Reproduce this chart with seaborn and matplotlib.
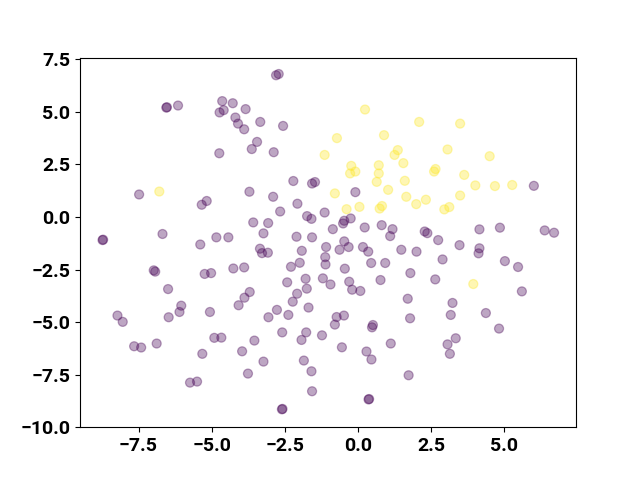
import matplotlib
matplotlib.use("Agg")
import matplotlib.pyplot as plt
import seaborn as sns
import pandas as pd

# class 0 (dark purple) points
x0 = [-6.55, -6.53, -6.15, -4.64, -4.28, -3.84, -4.73, -4.59, -4.19, -4.10, -3.89, -4.74, -3.63,
      -7.48, -5.17, -5.34, -3.71, -8.73, -8.71, -6.68, -4.84, -4.43, -5.39, -2.80, -2.71, -3.34,
      -2.56, -3.45, -2.88, -2.21, -1.57, -1.47, -2.90, -0.09, -2.07, -2.66, -1.14, -3.58, -3.07,
      -1.74, -1.59, -3.23, -2.10, -1.57, -0.86, -0.51, -0.47, -0.25, 0.23, 0.81, 1.18, 1.10, -0.47,
      6.01, 2.28, 2.37, 2.74, 4.15, 4.85, 6.38, 6.70, 3.47, 4.15, 4.12, 2.00, 1.48, 2.89, 5.02,
      5.47, 1.79, 2.64, 5.60, 1.70, 3.23, 3.17, 4.37, 1.78, 4.82, 3.34, 3.06, 3.14, 1.73, -3.35,
      -3.28, -3.08, -3.89, -1.92, -1.09, -0.32, 0.17, -0.63, 0.35, -1.12, -1.11, -1.99, -2.29,
      -0.45, 0.45, 0.93, -2.42, -1.79, -1.20, -0.94, -0.30, -0.20, 0.08, 0.77, -1.75, -2.08, -2.23,
      -3.70, -3.88, -4.08, -1.69, -2.77, -3.06, -2.38, -0.73, -0.48, -0.79, 0.51, 0.48, -2.59,
      -1.77, -1.93, -1.23, -3.54, -3.96, -3.23, -3.76, -0.55, 0.29, 0.46, 1.12, -1.85, -1.59,
      -1.57, -2.60, -2.58, 0.36, 0.38, -6.98, -6.93, -5.24, -5.02, -4.26, -6.49, -8.22, -8.04,
      -6.47, -6.04, -6.10, -5.06, -4.91, -4.67, -7.65, -7.41, -6.88, -5.32, -5.74, -5.50]
y0 = [5.20, 5.22, 5.30, 5.51, 5.41, 5.13, 4.97, 5.08, 4.73, 4.44, 4.17, 3.03, 3.23,
      1.07, 0.76, 0.58, 1.20, -1.10, -1.08, -0.81, -0.97, -0.97, -1.31, 6.74, 6.80, 4.52,
      4.33, 3.57, 3.08, 1.71, 1.59, 1.66, 0.96, 1.18, 0.63, 0.26, 0.21, -0.26, -0.29,
      0.04, -0.09, -0.78, -0.94, -0.97, -0.58, -0.31, -0.18, -0.07, -0.50, -0.39, -0.58, -0.91, -1.16,
      1.48, -0.69, -0.77, -1.10, -0.59, -0.51, -0.64, -0.75, -1.34, -1.49, -1.73, -1.65, -1.56, -2.02, -2.10,
      -2.38, -2.67, -2.97, -3.54, -3.89, -4.09, -4.66, -4.57, -4.82, -5.31, -5.77, -6.06, -6.51, -7.53, -1.51,
      -1.72, -1.70, -2.40, -1.61, -1.43, -1.43, -1.43, -1.56, -1.65, -1.91, -2.26, -2.18, -2.37,
      -2.46, -2.19, -2.19, -3.11, -2.94, -2.92, -3.21, -3.08, -3.46, -3.52, -3.00, -3.41, -3.65, -4.03,
      -3.57, -3.84, -4.20, -4.31, -4.42, -4.77, -4.66, -4.76, -4.69, -5.12, -5.14, -5.25, -5.49,
      -5.49, -5.85, -5.63, -5.88, -6.39, -6.88, -7.45, -6.20, -6.40, -6.78, -6.02, -6.83, -7.34,
      -8.29, -9.15, -9.13, -8.68, -8.66, -2.54, -2.60, -2.71, -2.67, -2.45, -3.43, -4.69, -4.99,
      -4.77, -4.22, -4.52, -4.52, -5.75, -5.74, -6.15, -6.21, -6.02, -6.51, -7.88, -7.83]

# class 1 (yellow) points
x1 = [-6.79, 0.24, -0.72, 0.89, -1.14, 1.36, 1.25, -0.23, 0.71, 1.55, -0.27, -0.09, 0.71,
      0.64, 1.60, -0.79, 1.03, 1.65, -0.39, 0.05, 0.74, 0.82, 2.09, 3.49, 3.06, 4.50, 2.60,
      2.65, 3.63, 4.01, 4.68, 5.27, 1.99, 2.32, 3.49, 2.95, 3.12, 3.94]
y1 = [1.21, 5.11, 3.75, 3.89, 2.95, 3.18, 2.95, 2.43, 2.46, 2.56, 2.07, 2.16, 2.07,
      1.67, 1.72, 1.12, 1.29, 0.96, 0.37, 0.48, 0.40, 0.52, 4.52, 4.44, 3.21, 2.89, 2.16,
      2.28, 2.00, 1.50, 1.47, 1.52, 0.61, 0.82, 1.02, 0.36, 0.47, -3.19]

x_ticks = [-7.5, -5.0, -2.5, 0.0, 2.5, 5.0]
y_ticks = [-10.0, -7.5, -5.0, -2.5, 0.0, 2.5, 5.0, 7.5]

df = pd.DataFrame({
    "x": x0 + x1,
    "y": y0 + y1,
    "label": [0] * len(x0) + [1] * len(x1),
})

fig, ax = plt.subplots(figsize=(6.4, 4.8), dpi=100)
sns.scatterplot(data=df, x="x", y="y", hue="label",
                palette={0: "#440154", 1: "#fde725"},
                alpha=0.35, s=42, edgecolor="face", linewidth=0.9,
                legend=False, ax=ax)
ax.set_xlim(-9.5, 7.45)
ax.set_ylim(-9.98, 7.58)
ax.set_xticks(x_ticks)
ax.set_yticks(y_ticks)
ax.set_xticklabels([f"{v:.1f}".replace("-", "\u2212") for v in x_ticks])
ax.set_yticklabels([f"{v:.1f}".replace("-", "\u2212") for v in y_ticks])
ax.set_xlabel("")
ax.set_ylabel("")
for lab in ax.get_xticklabels() + ax.get_yticklabels():
    lab.set_fontfamily(["Roboto", "DejaVu Sans"])
    lab.set_fontweight("bold")
    lab.set_fontsize(14)
fig.subplots_adjust(left=0.125, right=0.9, bottom=0.11, top=0.88)
fig.savefig("out.png", dpi=100)
